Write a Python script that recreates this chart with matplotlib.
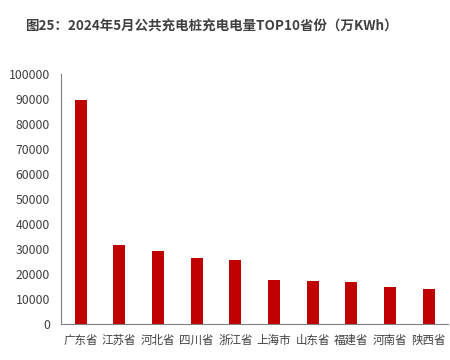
import matplotlib
matplotlib.use("Agg")
import matplotlib.pyplot as plt
import numpy as np

plt.rcParams['font.family'] = ['Noto Sans CJK SC', 'DejaVu Sans']

provinces = ["广东省", "江苏省", "河北省", "四川省", "浙江省", "上海市", "山东省", "福建省", "河南省", "陕西省"]
charge = [89800, 31600, 29200, 26500, 25700, 17800, 17200, 16800, 14800, 14100]
yticks = np.arange(0, 100001, 10000)

fig = plt.figure(figsize=(4.5, 3.6), dpi=100)
ax = fig.add_axes([0.136, 0.1, 0.86, 0.694])

x = np.arange(len(provinces))
ax.bar(x, charge, width=0.31, color="#C00000")

ax.set_xlim(-0.5, len(provinces) - 0.5)
ax.set_ylim(0, 100000)
ax.set_yticks(yticks)
ax.set_yticklabels([str(v) for v in yticks])
ax.set_xticks(x)
ax.set_xticklabels(provinces)
ax.tick_params(axis="both", length=0, colors="#404040")
ax.tick_params(axis="x", pad=7, labelsize=8.3)
ax.tick_params(axis="y", pad=8, labelsize=8.8)

for s in ["top", "right"]:
    ax.spines[s].set_visible(False)
for s in ["left", "bottom"]:
    ax.spines[s].set_color("#808080")
    ax.spines[s].set_linewidth(0.8)

fig.text(0.055, 0.925, "图25：2024年5月公共充电桩充电电量TOP10省份（万KWh）",
         fontsize=9.7, fontweight="bold", color="#404040", va="center")

fig.savefig("out.png", dpi=100)
